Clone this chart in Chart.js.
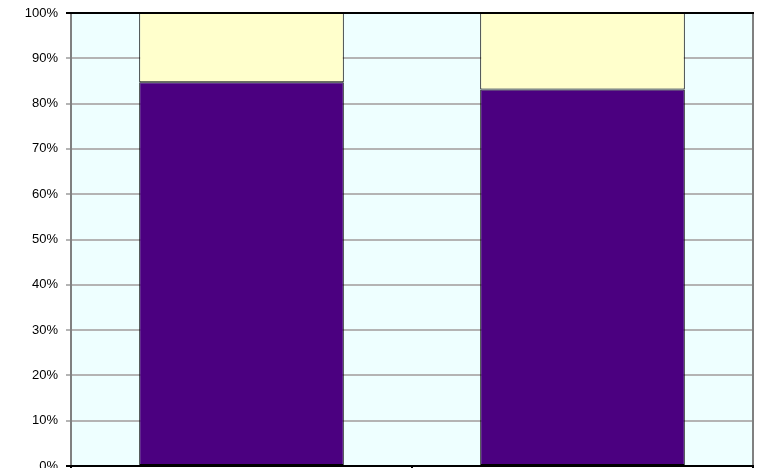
<!DOCTYPE html>
<html>
<head>
<meta charset="utf-8">
<script src="https://cdn.jsdelivr.net/npm/chart.js@4/dist/chart.umd.min.js"></script>
<style>
html,body{margin:0;padding:0;background:#fff;overflow:hidden;}
#wrap{width:761px;height:468px;overflow:hidden;}
</style>
</head>
<body>
<div id="wrap"><canvas id="c" width="761" height="510"></canvas></div>
<script>
const categories = ["Group A", "Group B"];
const seriesLower = [84.7, 83.1];
const seriesUpper = [15.3, 16.9];
const yTicks = [0, 10, 20, 30, 40, 50, 60, 70, 80, 90, 100];

const plotFrame = {
  id: 'plotFrame',
  beforeDraw(chart) {
    const a = chart.chartArea, ctx = chart.ctx;
    ctx.save();
    ctx.fillStyle = '#EEFFFF';
    ctx.fillRect(a.left, a.top, a.right - a.left, a.bottom - a.top);
    ctx.restore();
  },
  afterDraw(chart) {
    const a = chart.chartArea, ctx = chart.ctx;
    ctx.save();
    ctx.lineWidth = 2;
    ctx.strokeStyle = '#808080';
    ctx.beginPath();
    ctx.moveTo(a.right, a.top); ctx.lineTo(a.right, a.bottom);
    ctx.moveTo(a.left, a.top); ctx.lineTo(a.left, a.bottom);
    ctx.stroke();
    ctx.strokeStyle = '#000';
    ctx.beginPath();
    ctx.moveTo(a.left - 5, a.top); ctx.lineTo(a.right + 1, a.top);
    ctx.moveTo(a.left - 5, a.bottom); ctx.lineTo(a.right + 1, a.bottom);
    ctx.stroke();
    ctx.restore();
  }
};

new Chart(document.getElementById('c'), {
  type: 'bar',
  data: {
    labels: categories,
    datasets: [
      { data: seriesLower, backgroundColor: '#4B0080', borderColor: '#000', borderWidth: 1, borderSkipped: false },
      { data: seriesUpper, backgroundColor: '#FFFFCC', borderColor: '#000', borderWidth: 1, borderSkipped: false }
    ]
  },
  options: {
    responsive: false,
    animation: false,
    devicePixelRatio: 1,
    layout: { padding: { left: 0, right: 8, top: 13, bottom: 0 } },
    plugins: { legend: { display: false }, tooltip: { enabled: false } },
    datasets: { bar: { categoryPercentage: 1.0, barPercentage: 0.6 } },
    scales: {
      x: {
        stacked: true,
        grid: { display: true, drawOnChartArea: false, offset: true, tickLength: 5, color: '#000', lineWidth: 2 },
        border: { display: false },
        ticks: { color: '#000', font: { family: 'Liberation Sans, Arial, sans-serif', size: 13 } },
        afterFit(s) { s.height = 44; }
      },
      y: {
        stacked: true,
        min: 0, max: 100,
        afterBuildTicks(s) { s.ticks = yTicks.map(v => ({ value: v })); },
        grid: { color: '#B4B4B4', lineWidth: 2, tickLength: 5 },
        border: { display: false },
        ticks: {
          padding: 8,
          color: '#000',
          font: { family: 'Liberation Sans, Arial, sans-serif', size: 13 },
          callback: v => v + '%'
        },
        afterFit(s) { s.width = 71; s.paddingTop = 0; s.paddingBottom = 0; }
      }
    }
  },
  plugins: [plotFrame]
});
</script>
</body>
</html>
